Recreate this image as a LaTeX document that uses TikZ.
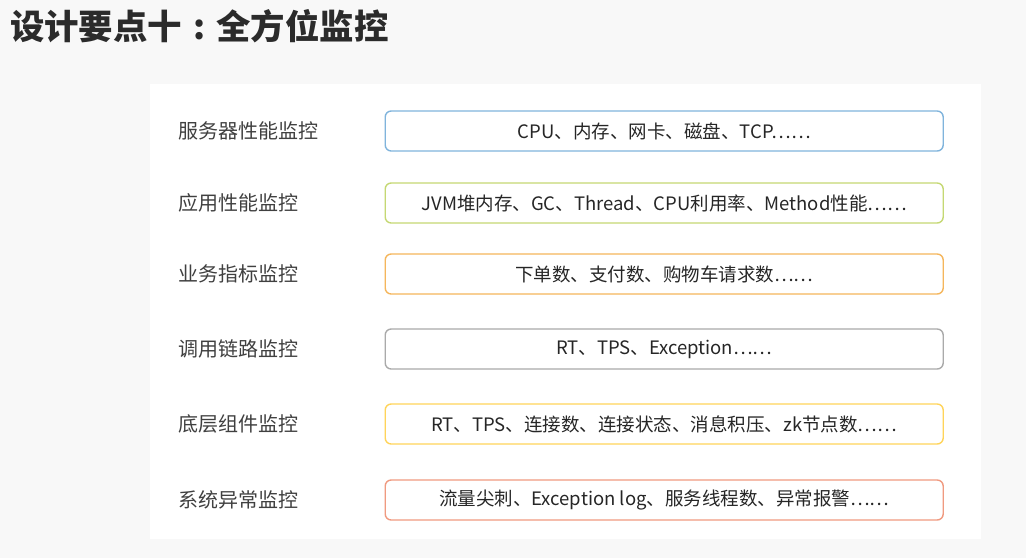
\documentclass[tikz,border=0pt]{standalone}
\usepackage{fontspec}
\setmainfont{Noto Sans CJK SC}
\definecolor{bgc}{HTML}{F8F8F8}
\definecolor{titlec}{HTML}{2B2B2B}
\definecolor{labelc}{HTML}{404040}
\definecolor{textc}{HTML}{262626}
\definecolor{cA}{HTML}{80B4DC}
\definecolor{cB}{HTML}{C5D873}
\definecolor{cC}{HTML}{F5B65C}
\definecolor{cD}{HTML}{AAAAAA}
\definecolor{cE}{HTML}{FFD45A}
\definecolor{cF}{HTML}{F09A80}
\begin{document}
\begin{tikzpicture}[x=1pt,y=-1pt,
  itembox/.style={draw=#1, line width=1.4pt, rounded corners=6pt, fill=white,
    minimum width=558pt, minimum height=40pt, inner sep=0pt,
    font=\fontsize{18.5}{22}\selectfont, text=textc, anchor=west},
  lbl/.style={anchor=west, font=\fontsize{20}{24}\selectfont, text=labelc, inner sep=0pt}]
\useasboundingbox (0,0) rectangle (1026,558);
\fill[bgc] (0,0) rectangle (1026,558);
\fill[white] (150,84) rectangle (981,539);
\node[anchor=west, inner sep=0pt, text=titlec, font=\fontsize{34.4}{40}\selectfont\bfseries] (title) at (10,26) {设计要点十\makebox[1em][c]{:}全方位监控};

\node[lbl] (l1) at (178,131) {服务器性能监控};
\node[lbl] (l2) at (178,203) {应用性能监控};
\node[lbl] (l3) at (178,274) {业务指标监控};
\node[lbl] (l4) at (178,349) {调用链路监控};
\node[lbl] (l5) at (178,424) {底层组件监控};
\node[lbl] (l6) at (178,500) {系统异常监控};

\node[itembox=cA] (b1) at (384.5,131) {CPU、内存、网卡、磁盘、TCP……};
\node[itembox=cB] (b2) at (384.5,203) {JVM堆内存、GC、Thread、CPU利用率、Method性能……};
\node[itembox=cC] (b3) at (384.5,274) {下单数、支付数、购物车请求数……};
\node[itembox=cD] (b4) at (384.5,349) {RT、TPS、Exception……};
\node[itembox=cE] (b5) at (384.5,424) {RT、TPS、连接数、连接状态、消息积压、zk节点数……};
\node[itembox=cF] (b6) at (384.5,500) {流量尖刺、Exception log、服务线程数、异常报警……};
\end{tikzpicture}
\end{document}
